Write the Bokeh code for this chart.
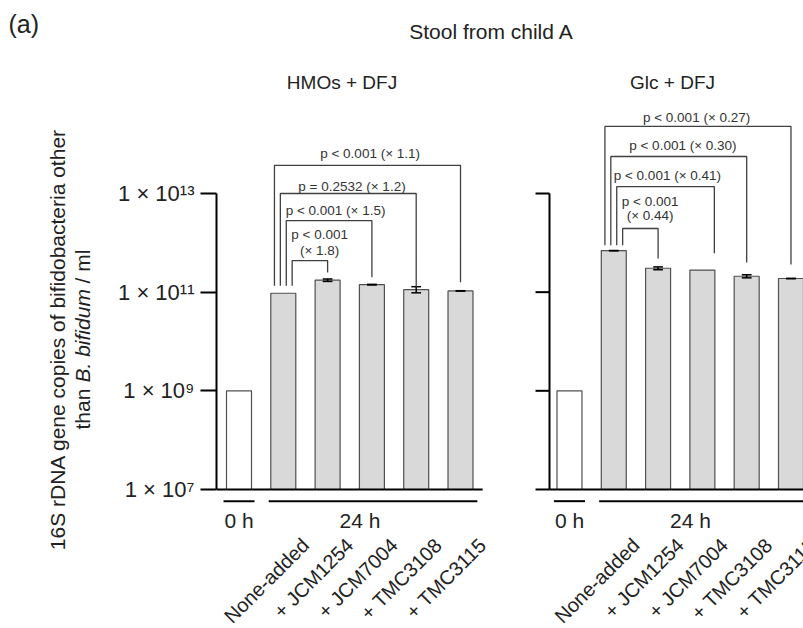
import numpy as np
from bokeh.plotting import figure
from bokeh.layouts import row
from bokeh.models import Range1d, FixedTicker
from bokeh.core.properties import value
from bokeh.embed import file_html
from bokeh.resources import INLINE

# ---------------- data ----------------
panel_titles = ["HMOs + DFJ", "Glc + DFJ"]
main_title = "Stool from child A"
panel_tag = "(a)"
time_labels = ["0 h", "24 h"]
bar_labels = ["", "None-added", "+ JCM1254", "+ JCM7004", "+ TMC3108", "+ TMC3115"]
hmo_values = [1.0e9, 9.5e10, 1.75e11, 1.42e11, 1.13e11, 1.06e11]
hmo_errors = [0, 0, 0.10e11, 0.02e11, 0.16e11, 0.01e11]
glc_values = [1.0e9, 6.95e11, 3.05e11, 2.80e11, 2.10e11, 1.89e11]
glc_errors = [0, 0.05e11, 0.20e11, 0, 0.15e11, 0.02e11]
compare_ref = 1
compare_to = [5, 4, 3, 2]
hmo_pvalues = [["p < 0.001 (× 1.1)"], ["p = 0.2532 (× 1.2)"], ["p < 0.001 (× 1.5)"], ["p < 0.001", "(× 1.8)"]]
glc_pvalues = [["p < 0.001 (× 0.27)"], ["p < 0.001 (× 0.30)"], ["p < 0.001 (× 0.41)"], ["p < 0.001", "(× 0.44)"]]
y_ticks = [1e7, 1e9, 1e11, 1e13]
y_tick_labels = ["1 × 10\u2077", "1 × 10\u2079", "1 × 10\u00b9\u00b9", "1 × 10\u00b9\u00b3"]
y_label_1 = "16S rDNA gene copies of bifidobacteria other"
y_label_2 = ["than", "B. bifidum", "/ ml"]

# ---------------- layout ----------------
FONT = value("Liberation Sans")
TXT = "#222222"
W, H = 803, 628
LEFT_W = 100
panel_offset = [0.0, 7.46]
bar_w = 0.564
leg_off = [-0.2, -0.067, 0.067, 0.2]
layout = [
    dict(levels=[13.57, 13.0, 12.45, 11.64], rbot=[11.20, 11.10, 11.30, 11.40], roff=[0, 0, 0, 0],
         lbot=11.13, tx=[2.96, 2.55, 2.18, 1.82], ty=[[13.81], [13.14], [12.66], [12.17, 11.84]]),
    dict(levels=[14.36, 13.75, 13.14, 12.29], rbot=[11.56, 11.60, 11.79, 11.68], roff=[0, 0, 0.27, 0],
         lbot=11.95, tx=[2.87, 2.56, 2.21, 1.82], ty=[[14.54], [13.97], [13.36], [12.84, 12.55]]),
]

# ---------------- left strip: panel tag and y-axis title ----------------
lf = figure(width=LEFT_W, height=H, x_range=Range1d(0, LEFT_W), y_range=Range1d(0, H),
            x_axis_location=None, y_axis_location=None, output_backend="svg", toolbar_location=None,
            min_border_left=0, min_border_right=0, min_border_top=0, min_border_bottom=0)
lf.outline_line_color = None
lf.grid.visible = False
lf.text(x=[8], y=[H - 23], text=[panel_tag], text_font=FONT, text_font_size="25px",
        text_align="left", text_baseline="middle", text_color=TXT)
lf.text(x=[57], y=[H - 339], text=[y_label_1], angle=np.pi / 2, text_font=FONT, text_font_size="21px",
        text_align="center", text_baseline="alphabetic", text_color=TXT)
for txt, yy, style in zip(y_label_2, [H - 429, H - 382, H - 283], ["normal", "italic", "normal"]):
    lf.text(x=[82], y=[yy], text=[txt], angle=np.pi / 2, text_font=FONT, text_font_style=style,
            text_font_size="21px", text_align="left", text_baseline="alphabetic", text_color=TXT)

# ---------------- main plot ----------------
frame_left = 216
p = figure(width=W - LEFT_W, height=H,
           x_range=Range1d(-0.508, -0.508 + (W - frame_left) / 44.3),
           y_range=Range1d(10 ** 4.182, 10 ** 16.912), y_axis_type="log",
           x_axis_location=None, output_backend="svg", toolbar_location=None,
           min_border_left=frame_left - LEFT_W, min_border_right=0, min_border_top=0, min_border_bottom=0)
p.outline_line_color = None
p.grid.visible = False

yax = p.yaxis[0]
yax.ticker = FixedTicker(ticks=y_ticks)
yax.bounds = (y_ticks[0], y_ticks[-1])
yax.major_label_overrides = {float(t): s for t, s in zip(y_ticks, y_tick_labels)}
yax.axis_line_width = 2
yax.axis_line_color = "black"
yax.major_tick_line_width = 2
yax.major_tick_out = 16
yax.major_tick_in = 0
yax.minor_tick_out = 0
yax.minor_tick_in = 0
yax.major_label_standoff = 6
yax.major_label_text_font = "Liberation Sans"
yax.major_label_text_font_size = "22px"
yax.major_label_text_color = TXT

base = y_ticks[0]
pvals = [hmo_pvalues, glc_pvalues]
for k, (vals, errs) in enumerate([(hmo_values, hmo_errors), (glc_values, glc_errors)]):
    off = panel_offset[k]
    xs = np.arange(len(vals)) + off
    colors = ["white"] + ["#d9d9d9"] * (len(vals) - 1)
    p.vbar(x=xs, width=bar_w, bottom=base, top=vals, fill_color=colors,
           line_color="#505050", line_width=1.2)
    # error bars
    v = np.array(vals); e = np.array(errs)
    m = e > 0
    ex = xs[m]; lo = (v - e)[m]; hi = (v + e)[m]
    p.segment(x0=ex, y0=lo, x1=ex, y1=hi, line_color="black", line_width=1.5)
    p.segment(x0=ex - 0.11, y0=hi, x1=ex + 0.11, y1=hi, line_color="black", line_width=1.5)
    p.segment(x0=ex - 0.11, y0=lo, x1=ex + 0.11, y1=lo, line_color="black", line_width=1.5)
    # baseline, second y axis, time lines
    if k == 0:
        ax_x = -0.508
        end_x = off + 5.5
    else:
        ax_x = off - 0.451
        end_x = off + 6.0
        p.segment(x0=[ax_x], y0=[y_ticks[0]], x1=[ax_x], y1=[y_ticks[-1]], line_color="black", line_width=2)
        p.segment(x0=[ax_x - 0.316] * len(y_ticks), y0=y_ticks, x1=[ax_x] * len(y_ticks), y1=y_ticks,
                  line_color="black", line_width=2)
    p.segment(x0=[ax_x], y0=[base], x1=[end_x], y1=[base], line_color="black", line_width=2)
    yl = 10 ** 6.763
    p.segment(x0=[off - 0.35, off + 0.67], y0=[yl, yl], x1=[off + 0.35, off + 5.38], y1=[yl, yl],
              line_color="black", line_width=2)
    p.text(x=[off, off + 2.73], y=[10 ** 6.37] * 2, text=time_labels, text_font=FONT,
           text_font_size="21px", text_align="center", text_baseline="middle", text_color=TXT)
    # category labels
    p.text(x=xs[1:] + 0.50, y=[10 ** 5.94] * (len(vals) - 1), text=bar_labels[1:], angle=np.pi / 4,
           text_font=FONT, text_font_size="20px", text_align="right", text_baseline="middle",
           text_color=TXT)
    # significance brackets
    L = layout[k]
    bxs, bys = [], []
    tx, ty, tt = [], [], []
    for j, tgt in enumerate(compare_to):
        xl = off + compare_ref + leg_off[j]
        xr = off + tgt + L["roff"][j]
        lev = 10 ** L["levels"][j]
        bxs.append([xl, xl, xr, xr])
        bys.append([10 ** L["lbot"], lev, lev, 10 ** L["rbot"][j]])
        for line, yy in zip(pvals[k][j], L["ty"][j]):
            tx.append(off + L["tx"][j]); ty.append(10 ** yy); tt.append(line)
    p.multi_line(xs=bxs, ys=bys, line_color="#404040", line_width=1.3)
    p.text(x=tx, y=ty, text=tt, text_font=FONT, text_font_size="13.5px", text_align="center",
           text_baseline="middle", text_color="#333333")

# titles
p.text(x=[2.325, 9.786], y=[10 ** 15.25] * 2, text=panel_titles, text_font=FONT, text_font_size="19px",
       text_align="center", text_baseline="middle", text_color=TXT)
p.text(x=[5.70], y=[10 ** 16.284], text=[main_title], text_font=FONT, text_font_size="21px",
       text_align="center", text_baseline="middle", text_color=TXT)

layout_root = row(lf, p)
open("out.html", "w").write(file_html(layout_root, INLINE))
